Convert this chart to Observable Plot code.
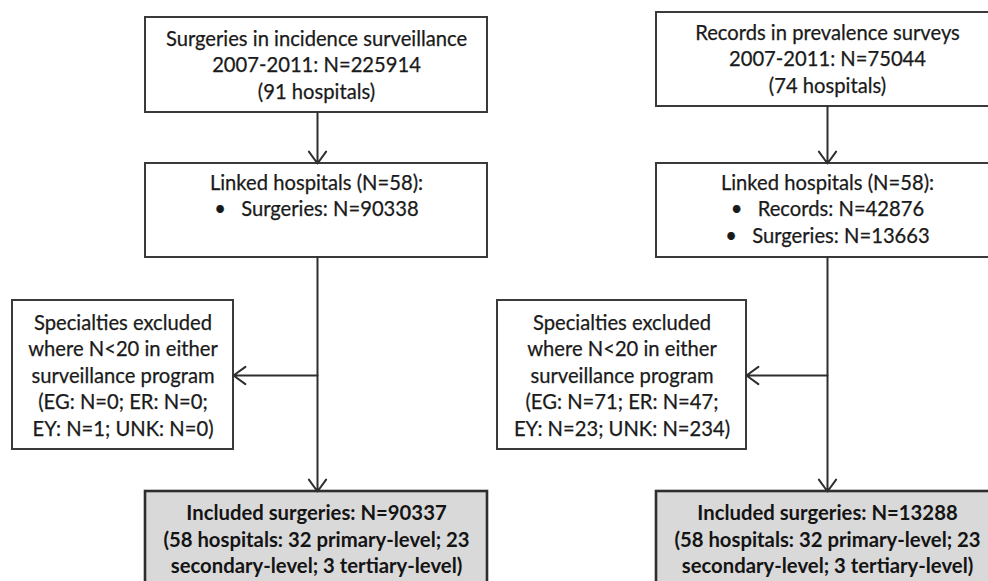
<!DOCTYPE html>
<html>
<head>
<meta charset="utf-8">
<script src="https://cdn.jsdelivr.net/npm/d3@7"></script>
<script src="https://cdn.jsdelivr.net/npm/@observablehq/plot@0.6"></script>
<style>
  html, body { margin: 0; padding: 0; background: #fff; overflow: hidden; }
  #chart svg { display: block; }
</style>
</head>
<body>
<div id="chart"></div>
<script>
// ---- Content (text of each flowchart box) ----
const incidenceTop = ["Surgeries in incidence surveillance", "2007-2011: N=225914", "(91 hospitals)"];
const incidenceLinked = ["Linked hospitals (N=58):", "\u2022\u2003Surgeries: N=90338"];
const incidenceExcluded = ["Specialties excluded", "where N<20 in either", "surveillance program", "(EG: N=0; ER: N=0;", "EY: N=1; UNK: N=0)"];
const incidenceIncluded = ["Included surgeries: N=90337", "(58 hospitals: 32 primary-level; 23", "secondary-level; 3 tertiary-level)"];

const prevalenceTop = ["Records in prevalence surveys", "2007-2011: N=75044", "(74 hospitals)"];
const prevalenceLinked = ["Linked hospitals (N=58):", "\u2022\u2003Records: N=42876", "\u2022\u2003Surgeries: N=13663"];
const prevalenceExcluded = ["Specialties excluded", "where N<20 in either", "surveillance program", "(EG: N=71; ER: N=47;", "EY: N=23; UNK: N=234)"];
const prevalenceIncluded = ["Included surgeries: N=13288", "(58 hospitals: 32 primary-level; 23", "secondary-level; 3 tertiary-level)"];

// ---- Layout (pixel frame of the diagram) ----
const boxes = [
  {lines: incidenceTop,       x1: 145, x2: 487, y1: 17,  y2: 112, firstY: 39,  bold: false},
  {lines: incidenceLinked,    x1: 145, x2: 487, y1: 163, y2: 257, firstY: 183, bold: false},
  {lines: incidenceExcluded,  x1: 12,  x2: 233, y1: 300, y2: 449, firstY: 323, bold: false},
  {lines: incidenceIncluded,  x1: 145, x2: 487, y1: 491, y2: 600, firstY: 513, bold: true},
  {lines: prevalenceTop,      x1: 656, x2: 998, y1: 12,  y2: 106, firstY: 33,  bold: false},
  {lines: prevalenceLinked,   x1: 656, x2: 998, y1: 163, y2: 257, firstY: 183, bold: false},
  {lines: prevalenceExcluded, x1: 497, x2: 746, y1: 300, y2: 449, firstY: 323, bold: false},
  {lines: prevalenceIncluded, x1: 656, x2: 998, y1: 491, y2: 600, firstY: 513, bold: true}
];
const lineGap = 26.5;

const arrows = [
  {x1: 317, y1: 112, x2: 317, y2: 163},
  {x1: 317, y1: 257, x2: 317, y2: 491},
  {x1: 317, y1: 375, x2: 233, y2: 375},
  {x1: 827, y1: 106, x2: 827, y2: 163},
  {x1: 827, y1: 257, x2: 827, y2: 491},
  {x1: 827, y1: 375, x2: 746, y2: 375}
];

const textRows = [];
for (const b of boxes) {
  const cx = (b.x1 + b.x2) / 2;
  b.lines.forEach((t, i) => textRows.push({text: t, x: cx, y: b.firstY + i * lineGap, bold: b.bold}));
}

const W = 988, H = 581;
const chart = Plot.plot({
  width: W,
  height: H,
  margin: 0,
  x: {domain: [0, W], range: [0, W], axis: null},
  y: {domain: [0, H], range: [0, H], axis: null},
  style: {fontFamily: "Lato, 'Noto Sans', sans-serif", background: "#fff"},
  marks: [
    Plot.rect(boxes.filter(d => !d.bold), {x1: "x1", x2: "x2", y1: "y1", y2: "y2", fill: "#fff", stroke: "#3a3a3a", strokeWidth: 2, clip: true}),
    Plot.rect(boxes.filter(d => d.bold), {x1: "x1", x2: "x2", y1: "y1", y2: "y2", fill: "#d9d9d9", stroke: "#2e2e2e", strokeWidth: 2.6, clip: true}),
    Plot.arrow(arrows, {x1: "x1", y1: "y1", x2: "x2", y2: "y2", stroke: "#2e2e2e", strokeWidth: 2, headLength: 11, headAngle: 72}),
    Plot.text(textRows.filter(d => !d.bold), {x: "x", y: "y", text: "text", fontSize: 20.2, fill: "#1a1a1a", stroke: "#1a1a1a", strokeWidth: 0.25, textAnchor: "middle", lineAnchor: "middle"}),
    Plot.text(textRows.filter(d => d.bold), {x: "x", y: "y", text: "text", fontSize: 20.3, fontWeight: "bold", fill: "#141414", textAnchor: "middle", lineAnchor: "middle"})
  ]
});
document.getElementById("chart").appendChild(chart);
</script>
</body>
</html>
